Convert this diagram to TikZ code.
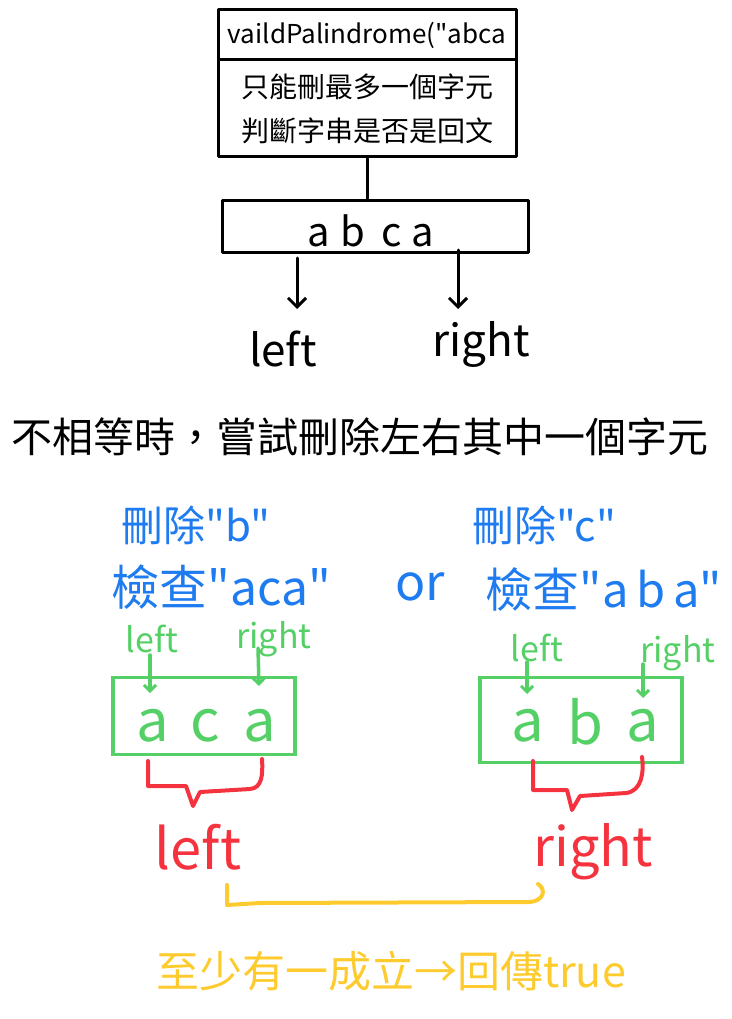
\documentclass[tikz,border=0pt]{standalone}
\usepackage{fontspec}
\setmainfont{Noto Sans CJK TC}[Ligatures=TeXOff]
\usetikzlibrary{arrows.meta}
\definecolor{hblue}{HTML}{1E7BF0}
\definecolor{hgreen}{HTML}{55D066}
\definecolor{hred}{HTML}{F5333F}
\definecolor{hyellow}{HTML}{FDCB2E}
\newcommand{\fs}[1]{\fontsize{#1}{#1}\selectfont}
\begin{document}
\begin{tikzpicture}[x=1pt,y=-1pt,
  ink/.style={draw=black,line width=3pt,line cap=round,line join=round},
  inkbox/.style={ink,rectangle,inner sep=0pt},
  arr/.style={ink,-{Straight Barb[length=9pt,width=18pt,line width=3pt]}},
  gline/.style={draw=hgreen,line width=3.5pt,line cap=round,line join=round},
  garr/.style={gline,-{Straight Barb[length=6pt,width=12pt,line width=3pt]}},
  rline/.style={draw=hred,line width=4pt,line cap=round,line join=round},
  yline/.style={draw=hyellow,line width=4pt,line cap=round,line join=round},
  lbl/.style={inner sep=0pt,anchor=base},
  blue/.style={text=hblue,inner sep=0pt},
  green/.style={text=hgreen,inner sep=0pt},
  red/.style={text=hred,inner sep=0pt,anchor=base},
]
\useasboundingbox (0,0) rectangle (731,1019);
% top box
\node[inkbox,minimum width=298,minimum height=50] (title) at (367,35) {\fs{26}vaildPalindrome("abca};
\node[inkbox,minimum width=298,minimum height=97,align=center,font=\fontsize{28}{44}\selectfont] (desc) at (367,108.5)
  {只能刪最多一個字元\\判斷字串是否是回文};
% bar
\node[inkbox,minimum width=306,minimum height=52] (bar) at (375,226) {};
\node[inner sep=0pt] (bartext) at (371,231) {\fs{40}a\hspace{10pt}b\hspace{16pt}c\hspace{10pt}a};
\draw[ink] (desc.south) -- (desc.south |- bar.north);
% black labels
\node[lbl] (ltop) at (283,366) {\fs{44}left};
\node[lbl] (rtop) at (481,356) {\fs{44}right};
\coordinate (la) at (297,258);
\coordinate (lb) at (297,309);
\coordinate (ra) at (458,250);
\coordinate (rb) at (458,309);
\draw[arr] (la) -- (lb);
\draw[arr] (ra) -- (rb);
% chinese line
\node[inner sep=0pt] (note) at (360,437) {\fs{41}不相等時，嘗試刪除左右其中一個字元};
% blue
\node[blue] (del1) at (196,525) {\fs{42}刪除"b"};
\node[blue] (chk1) at (221,587) {\fs{48}檢查"aca"};
\node[blue] (or) at (420,587) {\fs{50}or};
\node[blue] (del2) at (544,525) {\fs{42}刪除"c"};
\node[blue] (chk2) at (604,590) {\fs{47}檢查"a\,b\,a"};
% green labels
\node[green,anchor=base] (gl1) at (152,652) {\fs{34}left};
\node[green,anchor=base] (gr1) at (274,648) {\fs{34}right};
\node[green,anchor=base] (gl2) at (537,661) {\fs{34}left};
\node[green,anchor=base] (gr2) at (678,662) {\fs{34}right};
% green boxes
\node[rectangle,draw=hgreen,line width=3.5pt,minimum width=182,minimum height=77] (box1) at (204,716) {};
\node[green] (a1) at (153,726) {\fs{58}a};
\node[green] (c1) at (205,726) {\fs{58}c};
\node[green] (a2) at (260,726) {\fs{58}a};
\node[rectangle,draw=hgreen,line width=3.5pt,minimum width=202,minimum height=85] (box2) at (581,720) {};
\node[green] (a3) at (528,726) {\fs{58}a};
\node[green] (b3) at (585,722) {\fs{58}b};
\node[green] (a4) at (643,726) {\fs{58}a};
% green arrows
\coordinate (g1s) at (150,655); \coordinate (g1e) at (150,693);
\coordinate (g2s) at (258,648); \coordinate (g2e) at (259,686);
\coordinate (g3s) at (527,662); \coordinate (g3e) at (527,694);
\coordinate (g4s) at (643,664); \coordinate (g4e) at (643,698);
\draw[garr] (g1s) -- (g1e);
\draw[garr] (g2s) -- (g2e);
\draw[garr] (g3s) -- (g3e);
\draw[garr] (g4s) -- (g4e);
% red braces
\draw[rline] (148,761) -- (148,786) -- (186,786) -- (193,806) -- (200,792) -- (250,789)
  .. controls (262,788) and (263,775) .. (262,759);
\draw[rline] (533,761) -- (533,790) -- (567,790) -- (572,810) -- (580,796) -- (626,793)
  .. controls (642,791) and (644,772) .. (642,757);
\node[red] (rl) at (198,869) {\fs{56}left};
\node[red] (rr) at (593,866) {\fs{54}right};
% yellow bracket
\draw[yline] (227,885) -- (227,905) -- (260,903) -- (530,902)
  .. controls (543,901) and (547,890) .. (538,884);
\node[inner sep=0pt,text=hyellow] (res) at (391,971) {\fs{43}至少有一成立→回傳true};
\end{tikzpicture}
\end{document}
